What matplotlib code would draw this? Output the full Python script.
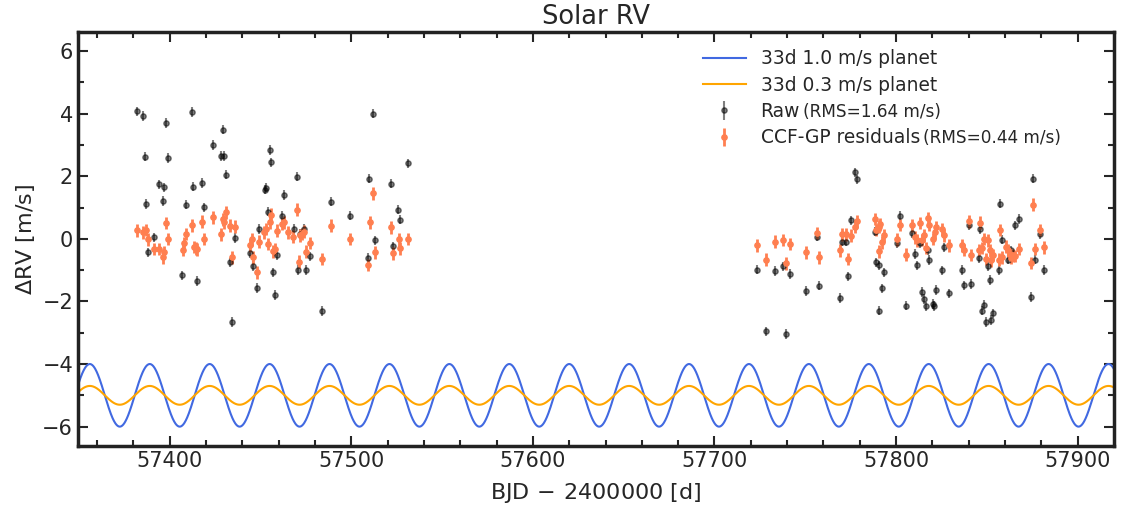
import numpy as np
import matplotlib.pyplot as plt

# raw RVs (BJD-2400000, m/s)
raw_t = [57382.2, 57385.1, 57398.0, 57412.1, 57429.1, 57424.0, 57428.0, 57430.0, 57386.2, 57399.1,
         57431.0, 57394.1, 57397.1, 57413.0, 57418.0, 57387.2, 57396.1, 57409.0, 57419.0, 57391.2,
         57387.9, 57406.9, 57415.0, 57434.1, 57433.2, 57435.9, 57455.0, 57455.9, 57452.4, 57453.1,
         57463.0, 57470.0, 57453.9, 57461.9, 57449.1, 57468.2, 57474.0, 57444.0, 57446.0, 57448.2,
         57457.0, 57458.1, 57459.2, 57470.9, 57474.9, 57477.1, 57483.9, 57489.0, 57499.1, 57511.9,
         57531.0, 57509.9, 57522.0, 57525.9, 57527.0, 57512.9, 57522.8, 57509.0, 57472.0,
         57723.6, 57728.5, 57733.5, 57737.5, 57739.5, 57741.6, 57750.4, 57756.4, 57757.7, 57769.4,
         57770.3, 57772.2, 57773.4, 57775.3, 57777.5, 57778.6, 57788.3, 57789.2, 57790.5, 57792.3,
         57793.6, 57790.5, 57800.4, 57802.4, 57805.5, 57808.6, 57810.5, 57811.4, 57813.4, 57814.3,
         57815.2, 57816.3, 57817.4, 57818.3, 57820.4, 57821.1, 57822.2, 57825.3, 57826.2, 57829.3,
         57836.5, 57837.2, 57840.3, 57841.4, 57845.5, 57846.4, 57847.3, 57848.2, 57849.5, 57850.6,
         57851.5, 57852.4, 57853.3, 57856.5, 57857.4, 57858.3, 57861.4, 57863.4, 57865.4, 57867.5,
         57874.4, 57875.5, 57876.4, 57879.4, 57881.6]
raw_rv = [4.07, 3.93, 3.70, 4.05, 3.49, 3.00, 2.65, 2.65, 2.63, 2.58,
          2.05, 1.74, 1.65, 1.67, 1.78, 1.11, 1.21, 1.09, 1.01, 0.05,
          -0.43, -1.17, -1.35, -2.66, -0.75, 0.03, 2.84, 2.44, 1.57, 1.64,
          1.40, 1.99, 0.87, 0.73, 0.32, 0.32, 0.32, -0.45, -0.87, -1.57,
          -1.07, -1.79, -0.53, -0.99, -0.99, -0.56, -2.31, 1.19, 0.74, 4.00,
          2.41, 1.92, 1.76, 0.93, 0.61, -0.05, -0.24, -0.61, 0.16,
          -0.98, -2.96, -1.03, -0.88, -3.04, -1.12, -1.67, 0.07, -1.50, -1.89,
          -0.09, -0.09, -1.20, 0.59, 2.13, 1.90, 0.23, -0.75, -0.85, -1.58,
          -1.07, -2.29, -0.14, 0.74, -2.13, 0.19, -0.48, -0.85, -0.14, -1.70,
          -1.92, -2.16, -0.37, -0.67, -2.08, -2.15, -1.63, -1.01, -0.27, -1.74,
          -0.99, -1.49, 0.43, -1.44, -0.62, 0.32, -2.29, -2.10, -2.66, -0.88,
          -1.31, -2.59, -2.38, -1.01, 1.12, -0.03, -0.66, -0.37, 0.43, 0.64,
          -1.86, 1.92, -0.66, 0.16, -0.99]

# CCF-GP residuals
res_t = [57382.2, 57385.5, 57387.0, 57387.9, 57391.2, 57393.9, 57396.3, 57397.0, 57398.0, 57399.1,
         57407.1, 57407.9, 57409.0, 57412.1, 57413.4, 57414.5, 57415.0, 57418.0, 57419.0, 57424.0,
         57428.2, 57429.1, 57430.0, 57431.0, 57433.2, 57435.9, 57434.1, 57444.0, 57445.1, 57446.0,
         57448.0, 57449.1, 57452.0, 57452.9, 57455.0, 57455.9, 57454.0, 57457.0, 57458.1, 57459.2,
         57461.9, 57462.8, 57465.0, 57468.0, 57470.0, 57471.1, 57472.0, 57472.9, 57474.0, 57474.9,
         57477.1, 57483.9, 57489.0, 57499.1, 57509.0, 57510.1, 57511.9, 57512.9, 57522.0, 57522.9,
         57526.1, 57527.0, 57531.0,
         57723.6, 57728.5, 57733.5, 57737.5, 57739.5, 57741.6, 57750.4, 57756.4, 57757.7, 57769.4,
         57770.3, 57772.2, 57773.4, 57775.3, 57777.5, 57778.6, 57788.3, 57789.2, 57790.5, 57791.4,
         57790.5, 57792.3, 57793.6, 57800.4, 57802.4, 57805.5, 57808.6, 57810.5, 57811.4, 57813.4,
         57814.3, 57815.2, 57816.3, 57817.4, 57818.3, 57820.4, 57821.5, 57822.2, 57825.3, 57826.2,
         57829.3, 57836.5, 57837.2, 57840.3, 57841.4, 57845.5, 57846.4, 57847.3, 57848.2, 57849.5,
         57850.6, 57851.5, 57852.4, 57853.3, 57856.5, 57857.4, 57858.3, 57860.5, 57861.4, 57862.5,
         57863.4, 57864.3, 57865.4, 57867.5, 57874.4, 57875.5, 57876.4, 57879.4, 57881.6]
res_rv = [0.27, 0.21, 0.29, -0.02, -0.32, -0.32, -0.59, -0.43, 0.50, 0.00,
          -0.35, -0.14, 0.16, 0.43, -0.26, -0.30, -0.34, 0.55, 0.00, 0.69,
          0.14, 0.62, 0.53, 0.85, 0.42, 0.39, -0.59, -0.21, -0.02, -0.59,
          -1.07, -0.09, 0.21, 0.32, 0.53, 0.77, -0.17, -0.40, -0.32, 0.26,
          0.48, 0.53, 0.21, 0.07, 0.93, -0.73, 0.11, 0.16, 0.23, -0.41,
          -0.14, -0.64, 0.42, 0.00, -0.83, 0.53, 1.45, -0.43, 0.37, -0.46,
          -0.02, -0.30, -0.01,
          -0.21, -0.66, -0.09, -0.03, -0.78, -0.16, -0.43, 0.18, -0.59, -0.37,
          0.14, 0.14, -0.64, 0.10, 0.39, 0.56, 0.64, 0.29, 0.39, 0.46,
          -0.40, -0.11, 0.11, -0.02, 0.45, -0.50, 0.43, 0.05, -0.05, 0.50,
          -0.03, 0.11, -0.29, 0.67, 0.45, 0.00, 0.21, 0.37, 0.30, 0.11,
          -0.21, -0.21, -0.35, 0.56, -0.51, -0.35, 0.52, -0.29, 0.00, -0.64,
          -0.05, -0.37, -0.69, -0.51, -0.66, 0.29, -0.59, -0.25, -0.37, -0.48,
          -0.61, -0.53, -0.55, -0.32, -0.77, 1.09, -0.32, 0.29, -0.27]

raw_err = 0.15
res_err = 0.2
rms_notes = ['(RMS=1.64 m/s)', '(RMS=0.44 m/s)']

# injected planet models
period = 33.0
t_peak = 57356.0
offset = -5.0
amp_big = 1.0
amp_small = 0.3

txt = '#262626'
plt.rcParams['font.family'] = 'DejaVu Sans'
plt.rcParams['text.color'] = txt
plt.rcParams['axes.labelcolor'] = txt
plt.rcParams['xtick.color'] = txt
plt.rcParams['ytick.color'] = txt

fig = plt.figure(figsize=(11.21, 5.08), dpi=100)
plt.subplots_adjust(left=0.0696, right=0.9937, top=0.9364, bottom=0.122)
ax = fig.add_subplot(111)

xlim = (57349.5, 57920.0)
tt = np.linspace(xlim[0], xlim[1], 3000)
ax.plot(tt, offset + amp_big * np.cos(2 * np.pi * (tt - t_peak) / period),
        color='royalblue', lw=1.5, label='33d 1.0 m/s planet')
ax.plot(tt, offset + amp_small * np.cos(2 * np.pi * (tt - t_peak) / period),
        color='orange', lw=1.5, label='33d 0.3 m/s planet')

ax.errorbar(raw_t, raw_rv, yerr=raw_err, fmt='o', color='black', alpha=0.5,
            ms=3.8, elinewidth=1.5, capsize=0, label='Raw')
ax.errorbar(res_t, res_rv, yerr=res_err, fmt='o', color='coral', alpha=1.0,
            ms=3.8, elinewidth=2, capsize=0, label='CCF-GP residuals')

ax.set_xlim(xlim)
ax.set_ylim(-6.62, 6.6)
ax.set_xticks([57400, 57500, 57600, 57700, 57800, 57900])
ax.set_yticks([-6, -4, -2, 0, 2, 4, 6])
ax.set_xticks(np.arange(57360, 57920, 20), minor=True)
ax.set_yticks([-5, -3, -1, 1, 3, 5], minor=True)
ax.tick_params(which='both', direction='in', top=True, right=True, labelsize=15, width=1.5)
ax.tick_params(which='major', length=7)
ax.tick_params(which='minor', length=4)
for s in ax.spines.values():
    s.set_linewidth(2.5)
    s.set_color('#222222')

ax.set_title('Solar RV', fontsize=18.5)
ax.set_xlabel(r'BJD$\,-\,$2400000 [d]', fontsize=16, labelpad=7)
ax.set_ylabel(r'$\Delta$RV [m/s]', fontsize=16)
leg = ax.legend(loc='upper left', frameon=False, fontsize=13.4, bbox_to_anchor=(0.587, 1.0),
                handlelength=2.3, labelspacing=0.4)

# smaller RMS notes after the Raw / residual labels (drawn after the legend)
for lt, note in zip(leg.get_texts()[2:], rms_notes):
    ax.annotate(note, xy=(1, 0), xycoords=lt, xytext=(2.5, 0.3), textcoords='offset points',
                fontsize=12.2, va='bottom', ha='left', color=txt, zorder=10)

plt.savefig('out.png', dpi=100)
